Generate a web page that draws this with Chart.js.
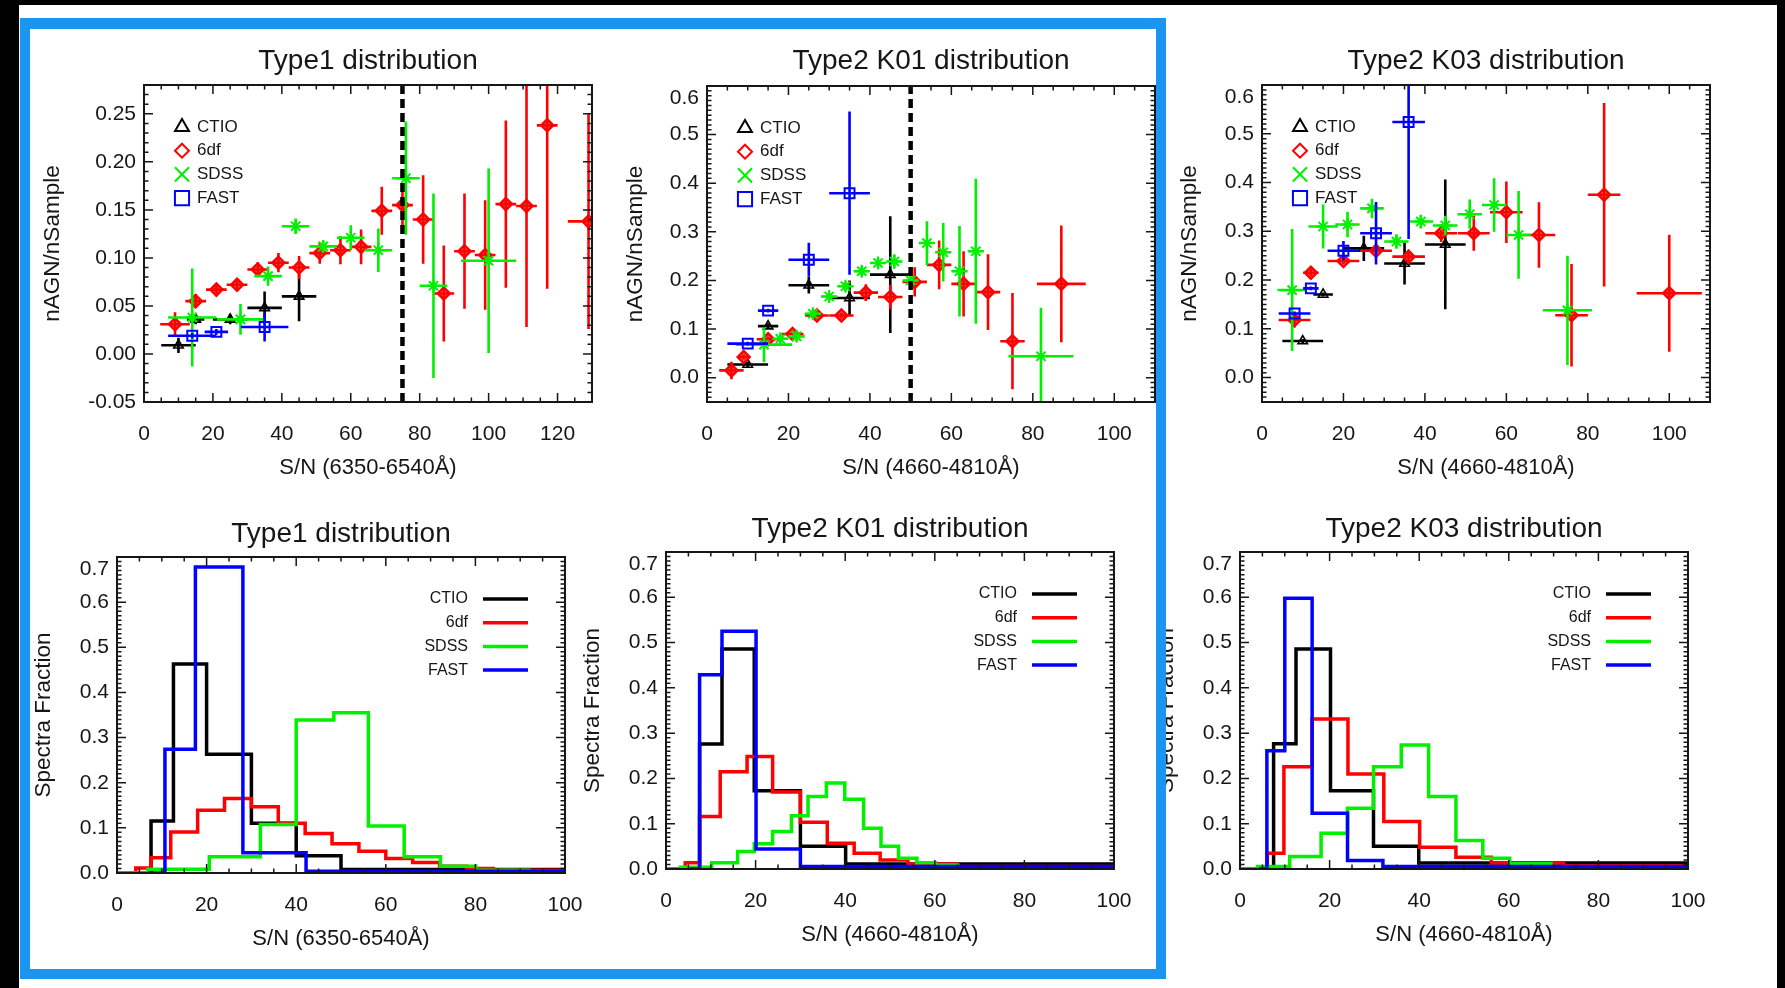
<!DOCTYPE html>
<html>
<head>
<meta charset="utf-8">
<title>AGN fraction vs S/N</title>
<script src="https://cdn.jsdelivr.net/npm/chart.js@4.4.1/dist/chart.umd.min.js"></script>
<style>
  html, body { margin: 0; padding: 0; background: #fff; }
  #page { position: relative; width: 1785px; height: 988px; overflow: hidden; background: #fff; }
  #page canvas { position: absolute; left: 0; top: 0; }
  .edge { position: absolute; background: #000; z-index: 2; }
  #frame { position: absolute; left: 20px; top: 18px; width: 1146px; height: 961px; box-sizing: border-box;
           border: 10px solid #1b95f2; border-top-width: 11px; z-index: 3; }
</style>
</head>
<body>
<div id="page">
  <canvas id="t1Frac" width="1785" height="988"></canvas>
  <canvas id="k01Frac" width="1785" height="988"></canvas>
  <canvas id="k03Frac" width="1785" height="988"></canvas>
  <canvas id="t1Hist" width="1785" height="988"></canvas>
  <canvas id="k01Hist" width="1785" height="988"></canvas>
  <canvas id="k03Hist" width="1785" height="988"></canvas>
  <div class="edge" style="left:0;top:0;width:1785px;height:5px"></div>
  <div class="edge" style="left:0;top:0;width:19px;height:988px"></div>
  <div class="edge" style="left:1777px;top:0;width:8px;height:988px"></div>
  <div id="frame"></div>
</div>
<script>
// AGN fraction per S/N bin: [S/N, nAGN/nSample, S/N half width, error]
const type1Ctio = [[10, 0.009, 5, 0.008], [15, 0.036, 2.5, 0.005], [25, 0.036, 5, 0.005], [35, 0.048, 5, 0.017], [45, 0.060, 5, 0.026]];
const type1Sixdf = [[9, 0.031, 4.3, 0.0125], [15, 0.055, 3, 0.0073], [21, 0.067, 3, 0.007], [27, 0.072, 3, 0.006],
  [33, 0.088, 3, 0.0076], [39, 0.095, 3, 0.01], [45, 0.090, 3, 0.012], [51, 0.105, 3, 0.011], [57, 0.108, 3, 0.0145],
  [63, 0.1115, 3, 0.018], [69, 0.149, 3, 0.025], [75, 0.155, 3, 0.022], [81, 0.140, 3, 0.046], [87, 0.063, 3, 0.05],
  [93, 0.107, 3, 0.06], [99, 0.103, 3, 0.057], [105, 0.156, 3, 0.087], [111, 0.154, 3, 0.126], [117, 0.238, 3, 0.17],
  [129, 0.138, 6, 0.112]];
const type1Sdss = [[14, 0.038, 7, 0.051], [28, 0.036, 6.8, 0.016], [36, 0.081, 4, 0.01], [44, 0.133, 4, 0.008],
  [52, 0.112, 4, 0.006], [60, 0.121, 4, 0.013], [68, 0.108, 4, 0.0226], [76, 0.183, 4, 0.059], [84, 0.071, 4, 0.096],
  [100, 0.097, 8, 0.096]];
const type1Fast = [[14, 0.019, 7, 0.003], [21, 0.023, 3.4, 0.003], [35, 0.028, 6.9, 0.015]];

const k01Ctio = [[10, 0.027, 5, 0.006], [15, 0.106, 2.5, 0.006], [25, 0.190, 5, 0.017], [35, 0.164, 5, 0.036], [45, 0.212, 5, 0.12]];
const k01Sixdf = [[6, 0.015, 3, 0.018], [9, 0.0425, 1.2, 0.005], [15, 0.079, 2.8, 0.005], [21, 0.090, 2.7, 0.005],
  [27, 0.128, 2.9, 0.006], [33, 0.128, 3, 0.006], [39, 0.175, 3, 0.017], [45, 0.166, 3, 0.025], [51, 0.197, 3, 0.03],
  [57, 0.232, 3, 0.05], [63, 0.193, 3, 0.067], [69, 0.176, 3, 0.078], [75, 0.075, 3, 0.099], [87, 0.193, 6, 0.12]];
const k01Sdss = [[14, 0.068, 6.9, 0.036], [18, 0.080, 2, 0.01], [22, 0.085, 2, 0.01], [26, 0.1315, 2, 0.01],
  [30, 0.167, 2, 0.008], [34, 0.188, 2, 0.01], [38, 0.219, 2, 0.01], [42, 0.236, 2, 0.01], [46, 0.239, 2, 0.015],
  [50, 0.200, 2, 0.016], [54, 0.277, 2, 0.045], [58, 0.258, 2, 0.06], [62, 0.219, 2, 0.093], [66, 0.260, 2, 0.149],
  [82, 0.044, 8, 0.1]];
const k01Fast = [[10, 0.070, 5, 0.004], [15, 0.138, 2.5, 0.004], [25, 0.2425, 5, 0.035], [35, 0.3795, 5, 0.168]];

const k03Ctio = [[10, 0.075, 5, 0.004], [15, 0.1705, 2.4, 0.004], [25, 0.265, 5, 0.026], [35, 0.234, 5, 0.043], [45, 0.273, 5, 0.133]];
const k03Sixdf = [[8, 0.118, 3.9, 0.015], [12, 0.215, 1.9, 0.007], [20, 0.239, 3.9, 0.006], [28, 0.260, 3.9, 0.006],
  [36, 0.248, 4, 0.014], [44, 0.296, 3.9, 0.018], [52, 0.296, 3.9, 0.036], [60, 0.339, 4, 0.063], [68, 0.2925, 4, 0.067],
  [76, 0.128, 4, 0.105], [84, 0.375, 4, 0.188], [100, 0.173, 8, 0.12]];
const k03Sdss = [[7.4, 0.1795, 3.6, 0.125], [15, 0.310, 3.6, 0.045], [21, 0.314, 3, 0.026], [27, 0.347, 2.9, 0.02],
  [33, 0.279, 3, 0.015], [39, 0.320, 3, 0.014], [45, 0.312, 3, 0.02], [51, 0.335, 3, 0.03], [57, 0.354, 3, 0.055],
  [63, 0.2925, 3, 0.09], [75, 0.138, 6, 0.112]];
const k03Fast = [[8, 0.1315, 3.9, 0.004], [12, 0.183, 1.9, 0.004], [20, 0.260, 3.9, 0.02], [28, 0.296, 3.9, 0.064], [36, 0.524, 4, 0.24]];

// S/N limits marked with the dashed line
const type1Cut = 75;
const k01Cut = 50;

// spectra fraction histograms: [bin start S/N, fraction], last entry closes the range
const type1HistCtio = [[0, 0], [7.6, 0.115], [12.6, 0.463], [20, 0.263], [30, 0.11], [40, 0.038], [50, 0.008], [100, 0.008]];
const type1HistSixdf = [[0, 0], [4.2, 0.011], [7.6, 0.034], [12, 0.091], [18, 0.139], [24, 0.165], [30, 0.147], [36, 0.11],
  [42, 0.0875], [48, 0.065], [54, 0.048], [60, 0.032], [66, 0.023], [72, 0.015], [78, 0.01], [84, 0.006], [100, 0.006]];
const type1HistSdss = [[0, 0], [6.9, 0.0085], [20.6, 0.036], [32, 0.1075], [40, 0.339], [48.4, 0.355], [56.1, 0.104],
  [64.1, 0.036], [72.2, 0.015], [80.1, 0.006], [92, 0.003], [100, 0.003]];
const type1HistFast = [[6.9, 0], [10.7, 0.274], [17.5, 0.678], [28.1, 0.0447], [42.2, 0.004], [100, 0.004]];

const k01HistCtio = [[0, 0], [7.5, 0.276], [12.5, 0.486], [19.7, 0.173], [30, 0.05], [40.1, 0.011], [100, 0.011]];
const k01HistSixdf = [[0, 0], [4.3, 0.014], [7.5, 0.116], [12.1, 0.215], [18.1, 0.2485], [23.8, 0.17], [30, 0.103],
  [36, 0.057], [42, 0.035], [47.8, 0.02], [54, 0.011], [64.7, 0.0055], [100, 0.0055]];
const k01HistSdss = [[0, 0], [3.2, 0.004], [10.2, 0.014], [16, 0.0387], [19.7, 0.0556], [23.8, 0.083], [28, 0.1175],
  [31.7, 0.16], [35.8, 0.19], [39.9, 0.154], [44.1, 0.09], [48, 0.05], [51.9, 0.024], [56, 0.014], [60.1, 0.009],
  [65.1, 0.003], [100, 0.003]];
const k01HistFast = [[5.3, 0], [7.5, 0.429], [12.5, 0.525], [20.1, 0.044], [30, 0.0055], [100, 0.0055]];

const k03HistCtio = [[0, 0], [7.5, 0.2765], [12.5, 0.486], [20.2, 0.173], [29.8, 0.05], [39.9, 0.013], [100, 0.013]];
const k03HistSixdf = [[4.2, 0], [6.1, 0.035], [9.8, 0.226], [16.1, 0.331], [24.1, 0.21], [32.1, 0.105], [40.1, 0.048],
  [48.2, 0.026], [56.1, 0.013], [72.2, 0.007], [100, 0.007]];
const k03HistSdss = [[0, 0], [3.9, 0.0055], [11.1, 0.0276], [18.1, 0.079], [24, 0.134], [29.8, 0.226], [36, 0.274],
  [42.1, 0.16], [48.2, 0.063], [54.2, 0.024], [60.2, 0.0114], [69.4, 0.005], [100, 0.005]];
const k03HistFast = [[4.2, 0], [6, 0.261], [10, 0.598], [16.1, 0.123], [24, 0.019], [31.9, 0.0055], [100, 0.0055]];

// tick labels
const type1XTicks = [0, 20, 40, 60, 80, 100, 120];
const type2XTicks = [0, 20, 40, 60, 80, 100];
const type1YTicks = [-0.05, 0, 0.05, 0.10, 0.15, 0.20, 0.25];
const type2YTicks = [0, 0.1, 0.2, 0.3, 0.4, 0.5, 0.6];
const histYTicks = [0, 0.1, 0.2, 0.3, 0.4, 0.5, 0.6, 0.7];

const surveys = ['CTIO', '6df', 'SDSS', 'FAST'];

const W = 1785, H = 988;
const AXIS_W = 110, AXIS_H = 80, TITLE_SIZE = 28, LABEL_SIZE = 21;
const INK = '#161616';
const FONT = '"Liberation Sans", Arial, Helvetica, sans-serif';
const COLORS = ['#000000', '#ff0000', '#00f000', '#0000ff'];

Chart.defaults.font.family = FONT;
Chart.defaults.color = INK;

function isMultiple(v, step) {
  const r = v / step;
  return Math.abs(r - Math.round(r)) < 1e-6;
}

// inward major/minor ticks on all four sides plus the closed box
const idlBox = {
  id: 'idlBox',
  afterDatasetsDraw(chart, args, o) {
    const { ctx, chartArea: a, scales: { x, y } } = chart;
    ctx.save();
    ctx.strokeStyle = INK;
    ctx.lineWidth = 1.5;
    ctx.beginPath();
    const nx = Math.floor((x.max - x.min) / o.xMinor + 1e-6);
    for (let i = 0; i <= nx; i++) {
      const v = x.min + i * o.xMinor;
      const len = isMultiple(v, o.xMajor) ? 9 : 4.5;
      const px = x.getPixelForValue(v);
      ctx.moveTo(px, a.bottom); ctx.lineTo(px, a.bottom - len);
      ctx.moveTo(px, a.top); ctx.lineTo(px, a.top + len);
    }
    const ny = Math.floor((y.max - y.min) / o.yMinor + 1e-6);
    for (let i = 0; i <= ny; i++) {
      const v = y.min + i * o.yMinor;
      const len = isMultiple(v, o.yMajor) ? 9 : 4.5;
      const py = y.getPixelForValue(v);
      ctx.moveTo(a.left, py); ctx.lineTo(a.left + len, py);
      ctx.moveTo(a.right, py); ctx.lineTo(a.right - len, py);
    }
    ctx.stroke();
    ctx.lineWidth = 2;
    ctx.strokeRect(a.left, a.top, a.right - a.left, a.bottom - a.top);
    ctx.restore();
  }
};

// x and y error bars, drawn just under each dataset's markers
const errorBars = {
  id: 'errorBars',
  beforeDatasetDraw(chart, args) {
    const ds = chart.data.datasets[args.index];
    if (!ds.errorBars) return;
    const { ctx, chartArea: a, scales: { x, y } } = chart;
    ctx.save();
    ctx.beginPath();
    ctx.rect(a.left, a.top, a.right - a.left, a.bottom - a.top);
    ctx.clip();
    ctx.strokeStyle = ds.borderColor;
    ctx.lineWidth = 2.6;
    ctx.beginPath();
    ds.data.forEach(d => {
      const px = x.getPixelForValue(d.x), py = y.getPixelForValue(d.y);
      ctx.moveTo(x.getPixelForValue(d.x - d.xe), py);
      ctx.lineTo(x.getPixelForValue(d.x + d.xe), py);
      ctx.moveTo(px, y.getPixelForValue(d.y - d.ye));
      ctx.lineTo(px, y.getPixelForValue(d.y + d.ye));
    });
    ctx.stroke();
    ctx.restore();
  }
};

// symbol legend in the upper left corner of the fraction plots
const markerLegend = {
  id: 'markerLegend',
  afterDraw(chart, args, o) {
    if (!o.items) return;
    const { ctx, chartArea: a } = chart;
    ctx.save();
    ctx.font = '17px ' + FONT;
    ctx.textBaseline = 'middle';
    o.items.forEach((it, i) => {
      const cy = a.top + 42 + i * 23.7;
      ctx.strokeStyle = it.color;
      ctx.fillStyle = 'rgba(0,0,0,0)';
      ctx.lineWidth = 2;
      if (Chart.helpers && Chart.helpers.drawPoint) {
        Chart.helpers.drawPoint(ctx, { pointStyle: it.style, radius: it.radius, rotation: 0, borderWidth: 2 }, a.left + 38, cy);
      }
      ctx.fillStyle = INK;
      ctx.fillText(it.label, a.left + 53, cy);
    });
    ctx.restore();
  }
};

// line legend in the upper right corner of the histograms
const lineLegend = {
  id: 'lineLegend',
  afterDraw(chart, args, o) {
    if (!o.items) return;
    const { ctx, chartArea: a } = chart;
    ctx.save();
    ctx.font = '16px ' + FONT;
    ctx.textBaseline = 'middle';
    ctx.textAlign = 'right';
    o.items.forEach((it, i) => {
      const cy = a.top + 42 + i * 23.7;
      ctx.fillStyle = INK;
      ctx.fillText(it.label, a.right - 97, cy);
      ctx.strokeStyle = it.color;
      ctx.lineWidth = 3.5;
      ctx.beginPath();
      ctx.moveTo(a.right - 82, cy);
      ctx.lineTo(a.right - 37, cy);
      ctx.stroke();
    });
    ctx.restore();
  }
};

function points(rows) { return rows.map(([x, y, xe, ye]) => ({ x, y, xe, ye })); }
function steps(rows) { return rows.map(([x, y]) => ({ x, y })); }

const MARKS = [
  { style: 'triangle', radius: 5.5, width: 1.6, fill: 'rgba(0,0,0,0)' },
  { style: 'rectRot', radius: 6, width: 2.5, fill: 'rgba(255,0,0,0.6)' },
  { style: 'star', radius: 6.5, width: 2, fill: 'rgba(0,0,0,0)' },
  { style: 'rect', radius: 7, width: 2, fill: 'rgba(0,0,0,0)' }
];
const LEGEND_MARKS = [
  { style: 'triangle', radius: 8 },
  { style: 'rectRot', radius: 7 },
  { style: 'crossRot', radius: 10 },
  { style: 'rect', radius: 10 }
];

function fractionSets(series) {
  return series.map((rows, i) => ({
    label: surveys[i],
    data: points(rows),
    errorBars: true,
    borderColor: COLORS[i],
    backgroundColor: MARKS[i].fill,
    pointStyle: MARKS[i].style,
    pointRadius: MARKS[i].radius,
    pointBorderWidth: MARKS[i].width,
    borderWidth: MARKS[i].width,
    showLine: false,
    order: 4 - i
  }));
}

function histSets(series) {
  return series.map((rows, i) => ({
    type: 'line',
    label: surveys[i],
    data: steps(rows),
    stepped: 'before',
    borderColor: COLORS[i],
    borderWidth: 3.5,
    borderJoinStyle: 'miter',
    pointRadius: 0,
    fill: false,
    order: 4 - i
  }));
}

function cutLine(xv, yMin, yMax) {
  return {
    type: 'line',
    data: [{ x: xv, y: yMin }, { x: xv, y: yMax }],
    borderColor: '#000',
    borderWidth: 4.5,
    borderDash: [9, 5],
    pointRadius: 0,
    fill: false,
    order: 0
  };
}

function panel(id, p) {
  const titleBox = TITLE_SIZE * 1.2 + p.titlePad;
  const [left, top, right, bottom] = p.box;
  const yMax = p.yRange[1];
  return new Chart(document.getElementById(id), {
    type: 'scatter',
    data: { datasets: p.datasets },
    options: {
      responsive: false,
      animation: false,
      devicePixelRatio: 1,
      events: [],
      layout: { padding: { left: left - AXIS_W, top: top - titleBox, right: W - right, bottom: H - bottom - AXIS_H } },
      plugins: {
        legend: { display: false },
        tooltip: { enabled: false },
        title: {
          display: true, text: p.title, fullSize: false, color: INK,
          font: { size: TITLE_SIZE, weight: 'normal' }, padding: { top: 0, bottom: p.titlePad }
        },
        idlBox: { xMinor: 5, xMajor: 20, yMinor: 0.01, yMajor: p.yMajor },
        markerLegend: { items: p.markerItems },
        lineLegend: { items: p.lineItems }
      },
      scales: {
        x: {
          type: 'linear', min: p.xRange[0], max: p.xRange[1],
          afterBuildTicks: s => { s.ticks = p.xTicks.map(v => ({ value: v })); },
          afterFit: s => { s.height = AXIS_H; },
          grid: { display: false, drawTicks: false, tickLength: 0 },
          border: { display: false },
          ticks: { padding: 19.5, color: INK, font: { size: LABEL_SIZE }, maxRotation: 0, autoSkip: false, callback: v => String(v) },
          title: { display: true, text: p.xTitle, color: INK, font: { size: 22 }, padding: { top: 0, bottom: 0.9 } }
        },
        y: {
          type: 'linear', min: p.yRange[0], max: yMax,
          afterBuildTicks: s => { s.ticks = p.yTicks.map(v => ({ value: v })); },
          afterFit: s => { s.width = AXIS_W; },
          grid: { display: false, drawTicks: false, tickLength: 0 },
          border: { display: false },
          ticks: {
            padding: 8, color: INK, font: { size: LABEL_SIZE }, autoSkip: false,
            // a label sitting on the top edge is dropped one line into the box
            callback: v => Math.abs(v - yMax) < 1e-9 ? ['', v.toFixed(p.yDigits)] : v.toFixed(p.yDigits)
          },
          title: { display: true, text: p.yTitle, color: INK, font: { size: 22.5 }, padding: { top: p.yTitlePad, bottom: 0 } }
        }
      }
    },
    plugins: [errorBars, idlBox, markerLegend, lineLegend]
  });
}

const markerItems = surveys.map((s, i) => ({ label: s, color: COLORS[i], style: LEGEND_MARKS[i].style, radius: LEGEND_MARKS[i].radius }));
const lineItems = surveys.map((s, i) => ({ label: s, color: COLORS[i] }));

const SN_RED = 'S/N (6350-6540\u00c5)';
const SN_BLUE = 'S/N (4660-4810\u00c5)';

panel('t1Frac', {
  box: [144, 85, 592, 402], titlePad: 6.9, title: 'Type1 distribution',
  xRange: [0, 130], yRange: [-0.05, 0.28], xTicks: type1XTicks, yTicks: type1YTicks, yDigits: 2, yMajor: 0.05,
  xTitle: SN_RED, yTitle: 'nAGN/nSample', yTitlePad: 5.5, markerItems,
  datasets: [...fractionSets([type1Ctio, type1Sixdf, type1Sdss, type1Fast]), cutLine(type1Cut, -0.05, 0.28)]
});

panel('k01Frac', {
  box: [707, 86, 1155, 402], titlePad: 7.5, title: 'Type2 K01 distribution',
  xRange: [0, 110], yRange: [-0.05, 0.6], xTicks: type2XTicks, yTicks: type2YTicks, yDigits: 1, yMajor: 0.1,
  xTitle: SN_BLUE, yTitle: 'nAGN/nSample', yTitlePad: 25.1, markerItems,
  datasets: [...fractionSets([k01Ctio, k01Sixdf, k01Sdss, k01Fast]), cutLine(k01Cut, -0.05, 0.6)]
});

panel('k03Frac', {
  box: [1262, 85, 1710, 402], titlePad: 6.9, title: 'Type2 K03 distribution',
  xRange: [0, 110], yRange: [-0.05, 0.6], xTicks: type2XTicks, yTicks: type2YTicks, yDigits: 1, yMajor: 0.1,
  xTitle: SN_BLUE, yTitle: 'nAGN/nSample', yTitlePad: 24.5, markerItems,
  datasets: fractionSets([k03Ctio, k03Sixdf, k03Sdss, k03Fast])
});

panel('t1Hist', {
  box: [117, 557, 565, 873], titlePad: 6.2, title: 'Type1 distribution',
  xRange: [0, 100], yRange: [0, 0.7], xTicks: type2XTicks, yTicks: histYTicks, yDigits: 1, yMajor: 0.1,
  xTitle: SN_RED, yTitle: 'Spectra Fraction', yTitlePad: 23.6, lineItems,
  datasets: histSets([type1HistCtio, type1HistSixdf, type1HistSdss, type1HistFast])
});

panel('k01Hist', {
  box: [666, 552, 1114, 869], titlePad: 5.6, title: 'Type2 K01 distribution',
  xRange: [0, 100], yRange: [0, 0.7], xTicks: type2XTicks, yTicks: histYTicks, yDigits: 1, yMajor: 0.1,
  xTitle: SN_BLUE, yTitle: 'Spectra Fraction', yTitlePad: 23.6, lineItems,
  datasets: histSets([k01HistCtio, k01HistSixdf, k01HistSdss, k01HistFast])
});

panel('k03Hist', {
  box: [1240, 552, 1688, 869], titlePad: 5.6, title: 'Type2 K03 distribution',
  xRange: [0, 100], yRange: [0, 0.7], xTicks: type2XTicks, yTicks: histYTicks, yDigits: 1, yMajor: 0.1,
  xTitle: SN_BLUE, yTitle: 'Spectra Fraction', yTitlePad: 23.6, lineItems,
  datasets: histSets([k03HistCtio, k03HistSixdf, k03HistSdss, k03HistFast])
});
</script>
</body>
</html>
